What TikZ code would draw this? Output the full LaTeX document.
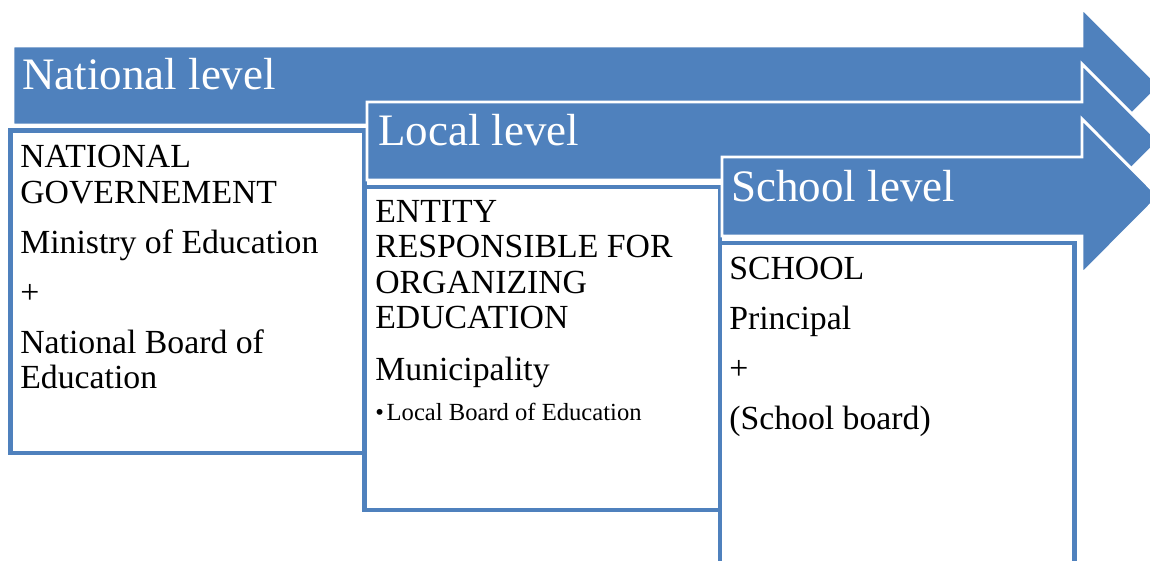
\documentclass[tikz,border=0pt]{standalone}
\usepackage{fontspec}
\setmainfont{Liberation Serif}
\definecolor{levelblue}{HTML}{4F81BD}

\begin{document}
\begin{tikzpicture}[x=0.025cm,y=-0.025cm,
    levelarrow/.style={fill=levelblue,draw=white,line width=2.1pt,line join=miter},
    levelbox/.style={draw=levelblue,fill=white,line width=3.2pt},
    leveltitle/.style={anchor=base west,inner sep=0pt,text=white,font=\fontsize{32}{36}\selectfont},
    boxtext/.style={anchor=north west,inner sep=0pt,align=left,font=\fontsize{24}{25.2}\selectfont}]
    \useasboundingbox (0,0) rectangle (1150,560);
    \clip (0,0) rectangle (1150,560);
    % national level
    \filldraw[levelarrow] (13,46) -- (1082,46) -- (1082,8) -- (1160,86) -- (1082,164) -- (1082,125) -- (13,125) -- cycle;
    \node (natlevel) at (22,89) [leveltitle] {National level};
    \draw[levelbox] (10.5,130.5) rectangle (364.5,453);
    \node (natbody) at (20,145) [boxtext] {NATIONAL\\GOVERNEMENT\\[10.4pt]Ministry of Education\\[10.4pt]+\\[10.4pt]National Board of\\Education};
    % local level
    \filldraw[levelarrow] (367,102) -- (1082,102) -- (1082,64) -- (1159,141) -- (1082,218) -- (1082,180) -- (367,180) -- cycle;
    \node (loclevel) at (378,145) [leveltitle] {Local level};
    \draw[levelbox] (364.5,187) rectangle (720,510);
    \node (locbody) at (375,200) [boxtext] {ENTITY\\RESPONSIBLE FOR\\ORGANIZING\\EDUCATION\\[11.5pt]Municipality\\[3.5pt]{\fontsize{17.5}{19}\selectfont\textbullet\hspace{2pt}Local Board of Education}};
    % school level
    \filldraw[levelarrow] (722,157) -- (1082,157) -- (1082,119) -- (1159,196.5) -- (1082,274) -- (1082,236) -- (722,236) -- cycle;
    \node (schlevel) at (731,201) [leveltitle] {School level};
    \draw[levelbox] (720,243) rectangle (1074.5,600);
    \node (schbody) at (729,257) [boxtext] {SCHOOL\\[10.4pt]Principal\\[10.4pt]+\\[10.4pt](School board)};
\end{tikzpicture}
\end{document}
